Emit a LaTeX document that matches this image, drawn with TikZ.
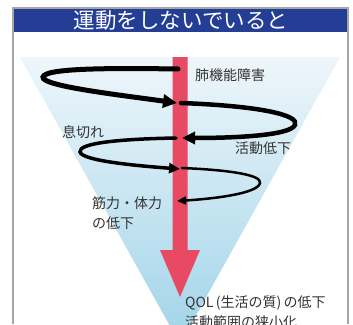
\documentclass[tikz,border=0pt]{standalone}
\usepackage{fontspec}
\setmainfont{Noto Sans CJK JP}
\usepackage{xcolor}
\usepackage{tikz}
\usetikzlibrary{arrows.meta}

\definecolor{titleblue}{RGB}{36,62,150}
\definecolor{barred}{RGB}{232,74,99}
\definecolor{funneltop}{RGB}{238,246,251}
\definecolor{funnelbot}{RGB}{160,212,232}
\definecolor{labelgray}{RGB}{51,51,51}

\tikzset{
	label/.style = {text = labelgray, font = \fontsize{14}{20}\selectfont, inner sep = 0pt, anchor = west},
	turn/.style = {draw = black, line cap = round}
}

\begin{document}
\begin{tikzpicture}[x=1pt, y=-1pt]
			\def\xMIN{0};
			\def\xMAX{353};
			\def\yMIN{0};
			\def\yMAX{324};

			\useasboundingbox (\xMIN,\yMIN) rectangle (\xMAX,\yMAX);
			\clip (\xMIN,\yMIN) rectangle (\xMAX,\yMAX);

			% frame and title band
			\fill [white] (\xMIN,\yMIN) rectangle (\xMAX,\yMAX);
			\fill [titleblue] (13,8) rectangle (348,32);
			\draw [gray!70, line width = 1.5pt] (13,\yMAX) -- (13,8) -- (348,8) -- (348,\yMAX);
			\node (title) [text = white, font = \fontsize{21.5}{24}\selectfont] at (181,20) {運動をしないでいると};

			% funnel
			\shade [top color = funneltop, bottom color = funnelbot] (20,57) -- (340,57) -- (180,344) -- cycle;

			% red arrow
			\fill [barred] (172.5,57) -- (187.5,57) -- (187.5,250) -- (200,250) -- (180,297) -- (160,250) -- (172.5,250) -- cycle;

			% spiral
			\begin{scope}[turn]
				\draw [line width = 5pt, -{Triangle[length = 14pt, width = 13pt]}]
					(178,69) .. controls (110,68) and (45,68) .. (43,77) .. controls (41,86) and (120,95) .. (177,103);
				\draw [line width = 4.5pt, -{Triangle[length = 13pt, width = 12pt]}]
					(181,103) .. controls (260,106) and (300,115) .. (295,125) .. controls (290,136) and (230,138) .. (182,138);
				\draw [line width = 3.5pt, -{Triangle[length = 11pt, width = 10pt]}]
					(176,138) .. controls (120,139) and (78,143) .. (80,152) .. controls (82,161) and (140,166) .. (180,169);
				\draw [line width = 2.5pt, -{Triangle[length = 9pt, width = 8pt]}]
					(182,168) .. controls (230,170) and (262,175) .. (260,183) .. controls (258,194) and (210,199) .. (177,201);
			\end{scope}

			% labels
			\node (lung) [label] at (195,75) {肺機能障害};
			\node (breath) [label] at (62,132) {息切れ};
			\node (activity) [label] at (235,148) {活動低下};
			\node (muscle) [label, align = left, anchor = north west] at (92,196) {筋力・体力\\の低下};
			\node (qol) [label, align = left, anchor = north west] at (185,296) {QOL\,(生活の質)\,の低下\\活動範囲の狭小化};
		\end{tikzpicture}
\end{document}
